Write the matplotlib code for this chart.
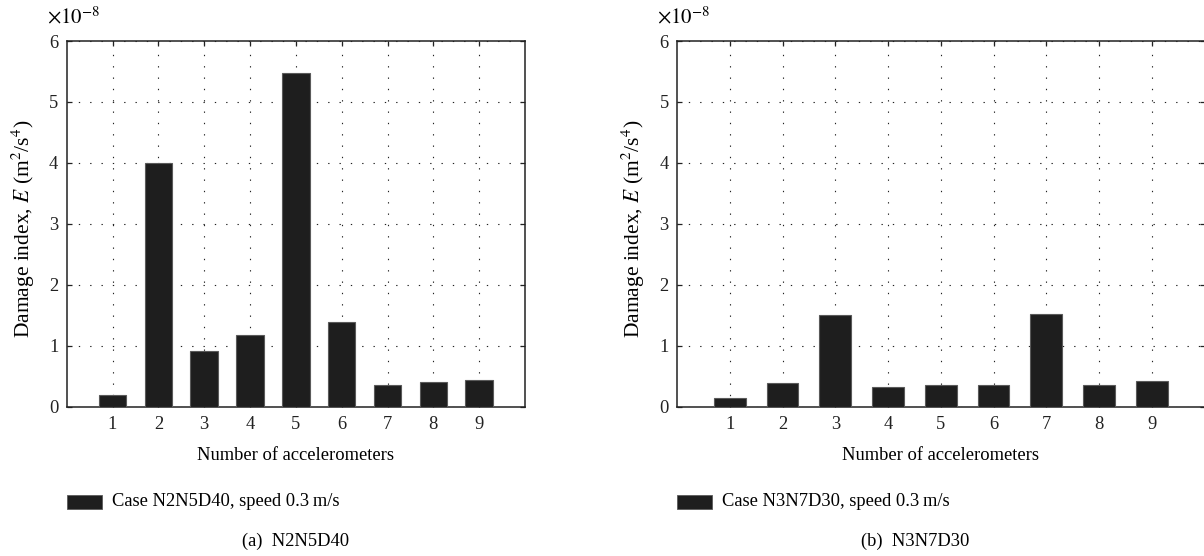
import numpy as np
import matplotlib
matplotlib.use("Agg")
import matplotlib.pyplot as plt
from matplotlib.ticker import FuncFormatter
from matplotlib.patches import Rectangle

plt.rcParams['font.family'] = ['Liberation Serif', 'DejaVu Serif']
plt.rcParams['mathtext.fontset'] = 'stix'

# data (units of 1e-8 m^2/s^4)
sensors = [1, 2, 3, 4, 5, 6, 7, 8, 9]
e_n2n5d40 = [0.19, 4.00, 0.91, 1.17, 5.48, 1.38, 0.35, 0.40, 0.43]
e_n3n7d30 = [0.14, 0.38, 1.51, 0.32, 0.36, 0.35, 1.52, 0.36, 0.42]
scale = 1e-8
yticks = [0, 1, 2, 3, 4, 5, 6]

legends = ["Case N2N5D40, speed 0.3\u2009m/s", "Case N3N7D30, speed 0.3\u2009m/s"]
captions = ["(a)  N2N5D40", "(b)  N3N7D30"]

W, H = 1204, 556
fs = 13.3
fig = plt.figure(figsize=(W / 100, H / 100), dpi=100)
# axes in pixels: left, top, right, bottom
boxes = [(66.7, 41, 525, 406.5), (677, 41, 1204.5, 406.5)]
cap_x = [296, 915]

for i, vals in enumerate([e_n2n5d40, e_n3n7d30]):
    l, t, r, b = boxes[i]
    aw, ah = r - l, b - t
    ax = fig.add_axes([l / W, 1 - b / H, aw / W, ah / H])
    ax.bar(sensors, np.array(vals) * scale, width=0.6,
           color='#1e1e1e', edgecolor='#5a5a5a', linewidth=0.8, zorder=3)
    ax.set_xlim(0, 10)
    ax.set_ylim(0, 6 * scale)
    ax.set_xticks(sensors)
    ax.set_yticks(np.array(yticks) * scale)
    ax.yaxis.set_major_formatter(FuncFormatter(lambda v, p: "%g" % round(v / scale, 6)))
    ax.tick_params(direction='in', top=True, right=True, labelsize=fs,
                   length=3.5, width=0.9, colors='#222222')
    ax.tick_params(axis='x', pad=7)
    ax.tick_params(axis='y', pad=6)
    ax.grid(True, linestyle=(0, (1.2, 9)), color='#222222', linewidth=0.8, zorder=0)
    for s in ax.spines.values():
        s.set_linewidth(1.1)
        s.set_color('#222222')
    ax.set_xlabel("Number of accelerometers", fontsize=fs)
    ax.xaxis.label.set_va('center')
    ax.xaxis.set_label_coords(0.5, -(456 - b) / ah)
    ax.set_ylabel("Damage index, $E$ (m$^2$/s$^4$)", fontsize=15.5)
    ax.yaxis.label.set_va('center')
    ax.yaxis.set_label_coords(-43.5 / aw, 0.5 - 5 / ah)
    ax.text(-20.0 / aw, 1 + (t - 18) / ah, r"$\times10^{-8}$", transform=ax.transAxes,
            fontsize=15, ha='left', va='center')

    # legend patch + text below the axes
    fig.patches.append(Rectangle((l / W, 1 - 509 / H), 35 / W, 14 / H,
                                 transform=fig.transFigure, facecolor='#1e1e1e',
                                 edgecolor='#5a5a5a', linewidth=0.6))
    fig.text((l + 45) / W, 1 - 502 / H, legends[i], fontsize=fs, va='center', ha='left')
    fig.text(cap_x[i] / W, 1 - 541 / H, captions[i], fontsize=fs, va='center', ha='center')

fig.savefig("out.png", dpi=100)
